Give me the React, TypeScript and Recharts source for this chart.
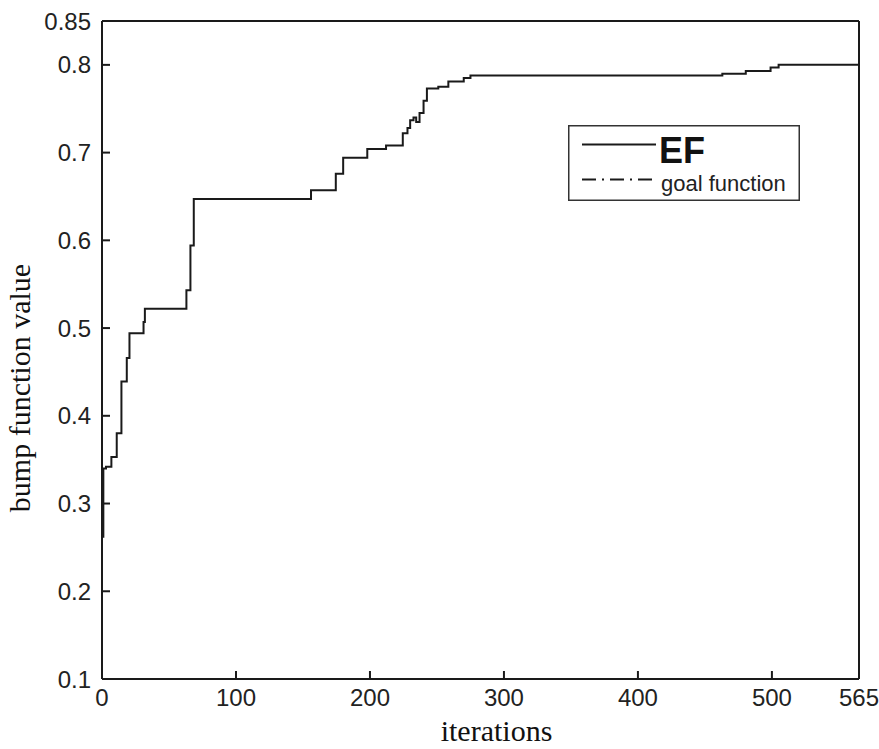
import React from 'react';
import { LineChart, Line, XAxis, YAxis, Legend } from 'recharts';

// EF curve: iteration at which each new best value starts, and that value
const iterations = [0, 1, 3, 7, 11, 14.5, 18.5, 20.5, 31, 32, 63, 66, 68.5, 156, 174.5, 180, 198, 212, 224.5, 228, 230, 232.5, 234.5, 237, 240, 242.5, 251, 258.5, 270, 275, 463, 480.5, 499, 505, 565];
const efValues = [0.262, 0.34, 0.342, 0.353, 0.38, 0.439, 0.466, 0.494, 0.507, 0.522, 0.543, 0.594, 0.647, 0.657, 0.676, 0.694, 0.704, 0.708, 0.722, 0.728, 0.737, 0.74, 0.735, 0.745, 0.759, 0.773, 0.775, 0.781, 0.785, 0.788, 0.79, 0.793, 0.797, 0.8, 0.8];

const xTicks = [0, 100, 200, 300, 400, 500, 565];
const xTicksTop = [100, 200, 300, 400, 500];
const yTicks = [0.1, 0.2, 0.3, 0.4, 0.5, 0.6, 0.7, 0.8, 0.85];
const legendLabels = ['EF', 'goal function'];
const xLabel = 'iterations';
const yLabel = 'bump function value';

const data = iterations.map((it, i) => ({ iter: it, value: efValues[i] }));

const INK = '#1a1a1a';
const tickFont = { fontSize: 24, fill: '#222', fontFamily: "'Liberation Sans', Arial, sans-serif" };
const axisStroke = { stroke: INK, strokeWidth: 2 };

const LegendBox = () => (
  <svg width={232} height={76} style={{ display: 'block' }}>
    <rect x={0.75} y={0.75} width={230.5} height={74.5} fill="#fff" stroke="#333" strokeWidth={1.5} />
    <line x1={14} y1={19.5} x2={88} y2={19.5} stroke={INK} strokeWidth={2} />
    <text x={91} y={38} fontSize={36} fontWeight="bold" fill="#111" fontFamily="'Liberation Sans', Arial, sans-serif">
      {legendLabels[0]}
    </text>
    <line x1={14} y1={54.5} x2={88} y2={54.5} stroke={INK} strokeWidth={2} strokeDasharray="14 6 2 6" />
    <text x={93} y={66} fontSize={22} fill="#222" fontFamily="'Liberation Sans', Arial, sans-serif">
      {legendLabels[1]}
    </text>
  </svg>
);

const XLabelContent = (props: any) => {
  const vb = props.viewBox || {};
  return (
    <text
      x={vb.x + vb.width / 2 + 16}
      y={vb.y + 62}
      textAnchor="middle"
      fontSize={30}
      fill="#111"
      fontFamily="'Liberation Serif', 'Times New Roman', serif"
    >
      {xLabel}
    </text>
  );
};

const YLabelContent = (props: any) => {
  const vb = props.viewBox || {};
  const x = vb.x + 29.5;
  const y = 388;
  return (
    <text
      x={x}
      y={y}
      transform={`rotate(-90, ${x}, ${y})`}
      textAnchor="middle"
      fontSize={30}
      fill="#111"
      fontFamily="'Liberation Serif', 'Times New Roman', serif"
    >
      {yLabel}
    </text>
  );
};

export default function App() {
  return (
    <div style={{ position: 'absolute', left: 0, top: 0, width: 879, height: 749, background: '#fff' }}>
      <LineChart width={879} height={749} data={data} margin={{ top: 20, right: 19, bottom: 0, left: 0 }}>
        <XAxis
          xAxisId={0}
          dataKey="iter"
          type="number"
          domain={[0, 565]}
          ticks={xTicks}
          interval={0}
          height={70}
          tickSize={-8}
          tickMargin={18}
          tick={tickFont}
          axisLine={axisStroke}
          tickLine={axisStroke}
          label={{ content: XLabelContent }}
        />
        <XAxis
          xAxisId="top"
          orientation="top"
          dataKey="iter"
          type="number"
          domain={[0, 565]}
          ticks={xTicksTop}
          interval={0}
          height={1}
          tickSize={-8}
          tick={false}
          axisLine={axisStroke}
          tickLine={axisStroke}
        />
        <YAxis
          yAxisId={0}
          type="number"
          domain={[0.1, 0.85]}
          ticks={yTicks}
          interval={0}
          width={102}
          tickSize={-8}
          tickMargin={19}
          tick={tickFont}
          axisLine={axisStroke}
          tickLine={axisStroke}
          label={{ content: YLabelContent }}
        />
        <YAxis
          yAxisId="right"
          orientation="right"
          type="number"
          domain={[0.1, 0.85]}
          ticks={yTicks.slice(0, 8)}
          interval={0}
          width={1}
          tickSize={-8}
          tick={false}
          axisLine={axisStroke}
          tickLine={axisStroke}
        />
        <Legend
          layout="horizontal"
          verticalAlign="middle"
          align="center"
          wrapperStyle={{ left: 568, top: 125, width: 232, height: 76 }}
          content={() => <LegendBox />}
        />
        <Line
          xAxisId={0}
          yAxisId={0}
          type="stepAfter"
          dataKey="value"
          name="EF"
          stroke={INK}
          strokeWidth={2}
          dot={false}
          activeDot={false}
          isAnimationActive={false}
        />
      </LineChart>
    </div>
  );
}
